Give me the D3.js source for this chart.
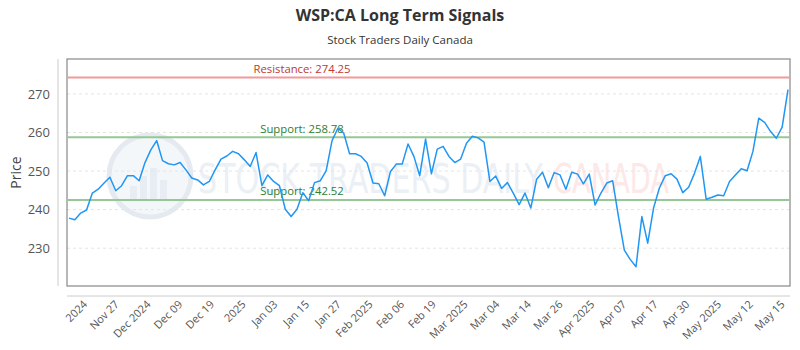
<!DOCTYPE html>
<html>
<head>
<meta charset="utf-8">
<script src="https://cdn.jsdelivr.net/npm/d3@7"></script>
<style>
  body { margin: 0; background: #fff; }
  svg { display: block; font-family: 'Open Sans', sans-serif; }
</style>
</head>
<body>
<svg id="chart" width="800" height="350"></svg>
<script>
// closing prices, one per trading day
const prices = [
  237.8, 237.4, 239.1, 239.9, 244.3, 245.3, 246.9, 248.4, 244.9, 246.2,
  248.8, 248.8, 247.5, 252.2, 255.5, 257.9, 252.7, 251.9, 251.6, 252.2,
  250.3, 248.2, 247.7, 246.4, 247.3, 250.3, 253.1, 253.9, 255.1, 254.5,
  252.9, 251.2, 254.8, 246.2, 249.0, 247.3, 246.2, 240.1, 238.2, 240.1,
  244.4, 242.3, 247.0, 247.5, 250.1, 257.9, 261.1, 259.8, 254.5, 254.5,
  253.8, 252.1, 246.9, 246.7, 243.6, 249.9, 251.8, 251.8, 257.0, 253.8,
  248.8, 258.3, 249.3, 255.7, 256.4, 253.8, 252.2, 253.1, 257.2, 259.0,
  258.6, 257.5, 247.3, 248.7, 245.5, 247.0, 244.3, 241.3, 244.3, 240.4,
  247.9, 249.7, 245.7, 249.6, 249.0, 245.3, 249.7, 249.2, 246.7, 249.2,
  241.2, 244.3, 246.9, 247.5, 238.2, 229.5, 227.1, 225.2, 238.2, 231.3,
  240.4, 245.6, 248.8, 249.3, 247.9, 244.4, 245.8, 249.4, 253.8, 242.7,
  243.2, 243.8, 243.6, 247.3, 249.0, 250.6, 250.1, 255.1, 263.7, 262.6,
  260.3, 258.5, 261.4, 271.1
]

const tickLabels = [
  '2024', 'Nov 27', 'Dec 2024', 'Dec 09', 'Dec 19', '2025', 'Jan 03', 'Jan 15',
  'Jan 27', 'Feb 2025', 'Feb 06', 'Feb 19', 'Mar 2025', 'Mar 04', 'Mar 14',
  'Mar 26', 'Apr 2025', 'Apr 07', 'Apr 17', 'Apr 30', 'May 2025', 'May 12', 'May 15'
]

const resistance = [274.25]
const supports = [258.78, 242.52]
const yTicks = [230, 240, 250, 260, 270]

const svg = d3.select('#chart')
const box = { left: 67, right: 790, top: 59, bottom: 286 }

const xScale = d3.scaleLinear().domain([0, prices.length - 1]).range([69, 788])
const yScale = d3.scaleLinear().domain([220.2, 279.05]).range([box.bottom, box.top])

// titles
svg.append('text')
  .attr('x', 400).attr('y', 21)
  .attr('text-anchor', 'middle')
  .attr('font-size', 16).attr('font-weight', 'bold')
  .attr('fill', '#333')
  .text('WSP:CA Long Term Signals')

svg.append('text')
  .attr('x', 400).attr('y', 44)
  .attr('text-anchor', 'middle')
  .attr('font-size', 11.5)
  .attr('fill', '#333')
  .text('Stock Traders Daily Canada')

// watermark
const wm = svg.append('g').attr('class', 'watermark')
wm.append('circle')
  .attr('cx', 150).attr('cy', 176).attr('r', 41)
  .attr('fill', '#f4f7fa').attr('stroke', '#e5eaf1').attr('stroke-width', 5)
const wmBars = [14, 24, 32, 20]
wm.selectAll('rect.wmbar')
  .data(wmBars)
  .join('rect')
  .attr('class', 'wmbar')
  .attr('x', (d, i) => 130 + i * 10)
  .attr('y', d => 200 - d)
  .attr('width', 7)
  .attr('height', d => d)
  .attr('fill', '#e8edf3')
wm.append('text')
  .attr('x', 198).attr('y', 193)
  .attr('font-family', 'DejaVu Sans Condensed, DejaVu Sans, sans-serif')
  .attr('font-size', 41)
  .attr('textLength', 345).attr('lengthAdjust', 'spacingAndGlyphs')
  .attr('fill', '#ebf0f6')
  .text('STOCK TRADERS DAILY')
wm.append('text')
  .attr('x', 553).attr('y', 193)
  .attr('font-family', 'DejaVu Sans Condensed, DejaVu Sans, sans-serif')
  .attr('font-size', 41)
  .attr('textLength', 116).attr('lengthAdjust', 'spacingAndGlyphs')
  .attr('fill', '#fde8e8')
  .text('CANADA')

// grid
svg.append('g')
  .selectAll('line')
  .data(yTicks)
  .join('line')
  .attr('x1', box.left).attr('x2', box.right)
  .attr('y1', d => yScale(d)).attr('y2', d => yScale(d))
  .attr('stroke', '#e4e4e4')
  .attr('stroke-dasharray', '3,3')

// plot frame
svg.append('rect')
  .attr('x', box.left).attr('y', box.top)
  .attr('width', box.right - box.left).attr('height', box.bottom - box.top)
  .attr('fill', 'none').attr('stroke', '#888').attr('stroke-width', 1.2)

// y axis
const yAxis = d3.axisLeft(yScale).tickValues(yTicks).tickSize(0).tickPadding(8)
const yG = svg.append('g').attr('transform', 'translate(58,0)').call(yAxis)
yG.select('.domain').remove()
yG.selectAll('text').attr('font-size', 13).attr('fill', '#555').attr('font-family', 'Open Sans, sans-serif')
svg.append('line')
  .attr('x1', 58).attr('x2', 58).attr('y1', box.top).attr('y2', box.bottom)
  .attr('stroke', '#ccc')
svg.append('text')
  .attr('transform', `translate(21,${(box.top + box.bottom) / 2}) rotate(-90)`)
  .attr('text-anchor', 'middle')
  .attr('font-size', 14).attr('fill', '#444')
  .text('Price')

// x axis
svg.append('line')
  .attr('x1', box.left).attr('x2', box.right).attr('y1', 296).attr('y2', 296)
  .attr('stroke', '#ccc')
const tickStart = 3.6
const tickEnd = prices.length - 1.1
const tickStep = (tickEnd - tickStart) / (tickLabels.length - 1)
svg.append('g')
  .selectAll('text')
  .data(tickLabels)
  .join('text')
  .attr('transform', (d, i) => `translate(${xScale(tickStart + i * tickStep) - 2},305) rotate(-45)`)
  .attr('text-anchor', 'end')
  .attr('font-size', 11).attr('fill', '#555')
  .text(d => d)

// level lines
const levelX = 302
svg.append('g')
  .selectAll('line')
  .data(resistance)
  .join('line')
  .attr('x1', box.left).attr('x2', box.right)
  .attr('y1', d => yScale(d)).attr('y2', d => yScale(d))
  .attr('stroke', '#f19a9a').attr('stroke-width', 1.8)
svg.append('g')
  .selectAll('text')
  .data(resistance)
  .join('text')
  .attr('x', levelX).attr('y', d => yScale(d) - 4.5)
  .attr('text-anchor', 'middle')
  .attr('font-size', 11.3).attr('fill', '#c0392b')
  .text(d => `Resistance: ${d.toFixed(2)}`)

svg.append('g')
  .selectAll('line')
  .data(supports)
  .join('line')
  .attr('x1', box.left).attr('x2', box.right)
  .attr('y1', d => yScale(d)).attr('y2', d => yScale(d))
  .attr('stroke', '#95c895').attr('stroke-width', 2)
svg.append('g')
  .selectAll('text')
  .data(supports)
  .join('text')
  .attr('x', levelX).attr('y', d => yScale(d) - 4.5)
  .attr('text-anchor', 'middle')
  .attr('font-size', 11.3).attr('fill', '#2e7d32')
  .text(d => `Support: ${d.toFixed(2)}`)

// price line
const line = d3.line()
  .x((d, i) => xScale(i))
  .y(d => yScale(d))

svg.append('path')
  .datum(prices)
  .attr('d', line)
  .attr('fill', 'none')
  .attr('stroke', '#2196f3')
  .attr('stroke-width', 1.5)
  .attr('stroke-linejoin', 'round')
</script>
</body>
</html>
